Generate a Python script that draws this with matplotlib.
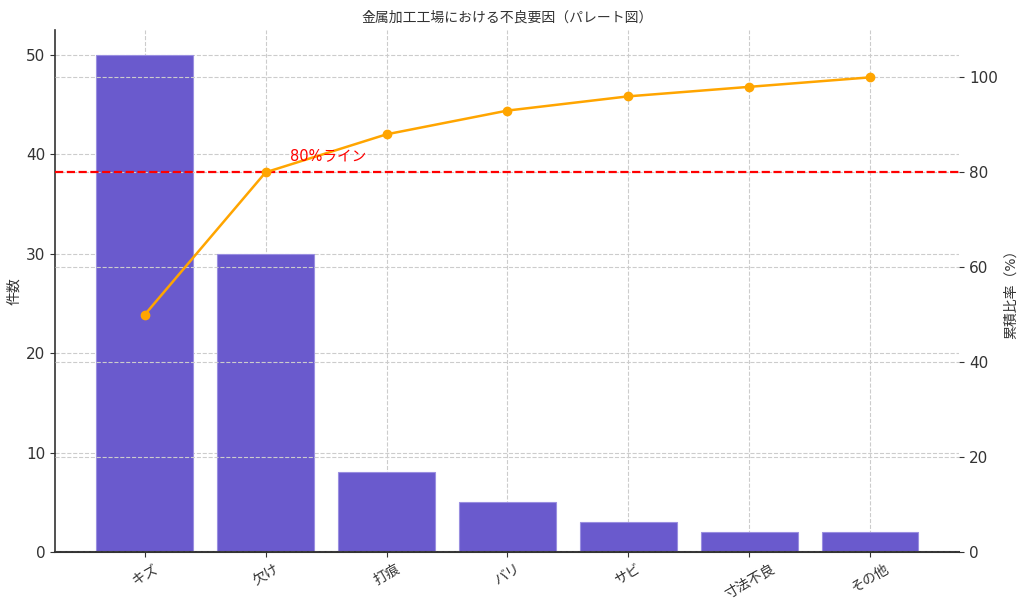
import numpy as np
import matplotlib.pyplot as plt

plt.rcParams['font.family'] = ['DejaVu Sans', 'Noto Sans CJK JP']

# data
categories = ["キズ", "欠け", "打痕", "バリ", "サビ", "寸法不良", "その他"]
counts = [50, 30, 8, 5, 3, 2, 2]
cum_pct = [50, 80, 88, 93, 96, 98, 100]

text_col = "#333333"

fig = plt.figure(figsize=(10.24, 6.1), dpi=100)
ax = fig.add_axes([0.054, 0.095, 0.883, 0.856])

x = np.arange(len(categories))
ax.bar(x, counts, color="#6A5ACD", edgecolor="#9a8fe0", linewidth=0.8, zorder=2)
ax.set_xticks(x)
ax.set_xticklabels(categories, rotation=30, color=text_col, fontsize=10)
ax.set_ylabel("件数", color=text_col, fontsize=10)
ax.set_ylim(0, 52.5)
ax.tick_params(axis='y', colors=text_col, labelsize=11)
ax.tick_params(axis='x', colors=text_col)
ax.grid(True, linestyle="--", color="#cccccc", linewidth=0.8, zorder=0)
ax.set_axisbelow(True)
for s in ["top", "right"]:
    ax.spines[s].set_visible(False)
ax.spines["left"].set_color("#333333")
ax.spines["bottom"].set_color("#333333")
ax.spines["left"].set_linewidth(1.2)
ax.spines["bottom"].set_linewidth(1.5)

ax2 = ax.twinx()
ax2.plot(x, cum_pct, color="orange", marker="o", markersize=6, linewidth=1.8, zorder=3)
ax2.axhline(80, color="red", linestyle="--", linewidth=1.6)
ax2.text(1.2, 82.5, "80%ライン", color="red", fontsize=10.5)
ax2.set_ylim(0, 110)
ax2.set_ylabel("累積比率（%）", color=text_col, fontsize=10)
ax2.tick_params(axis='y', colors=text_col, labelsize=11)
ax2.grid(True, linestyle="--", color="#cccccc", linewidth=0.8)
for s in ["top", "right", "left", "bottom"]:
    ax2.spines[s].set_visible(False)

ax.set_title("金属加工工場における不良要因（パレート図）", color=text_col, fontsize=10)

fig.savefig("out.png", dpi=100)
